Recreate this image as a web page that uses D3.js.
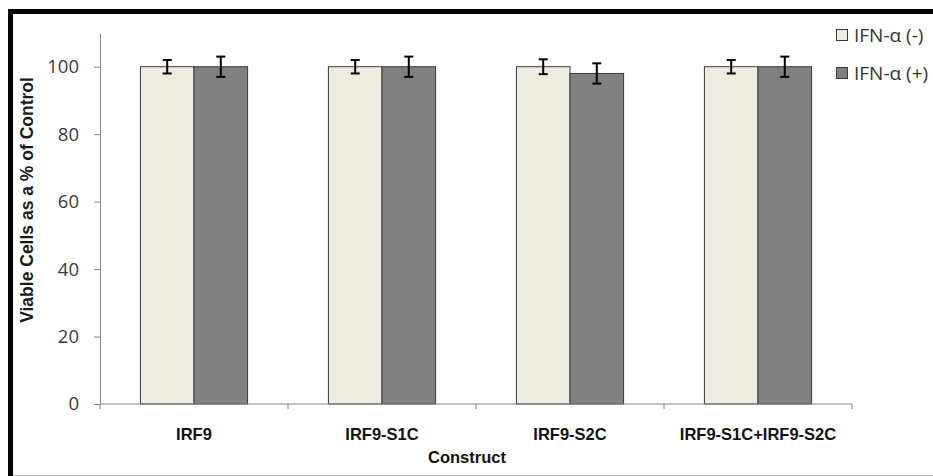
<!DOCTYPE html>
<html>
<head>
<meta charset="utf-8">
<script src="https://cdn.jsdelivr.net/npm/d3@7"></script>
<style>
  body { margin: 0; background: #fff; }
  svg { display: block; }
</style>
</head>
<body>
<div id="chart"></div>
<script>
const categories = ['IRF9', 'IRF9-S1C', 'IRF9-S2C', 'IRF9-S1C+IRF9-S2C'];
const seriesNames = ['IFN-\u03b1 (-)', 'IFN-\u03b1 (+)'];
const valuesMinus = [100, 100, 100, 100];
const valuesPlus = [100, 100, 98, 100];
const errMinus = [2, 2, 2.2, 2];
const errPlus = [3, 3, 3, 3];
const yTicks = [0, 20, 40, 60, 80, 100];

const colors = ['#eeece1', '#808080'];
const W = 933, H = 476;

const svg = d3.select('#chart')
  .append('svg')
  .attr('width', W)
  .attr('height', H);

// frame: thick black top/left, thin grey bottom
svg.append('rect')
  .attr('x', 8).attr('y', 9)
  .attr('width', W).attr('height', 5)
  .attr('fill', '#000');
svg.append('rect')
  .attr('x', 8).attr('y', 9)
  .attr('width', 5).attr('height', 467)
  .attr('fill', '#000');
svg.append('line')
  .attr('x1', 13).attr('x2', W)
  .attr('y1', 475.5).attr('y2', 475.5)
  .attr('stroke', '#b8b8b8');

const y = d3.scaleLinear().domain([0, 110]).range([404, 33]);
const x0 = d3.scaleBand()
  .domain(categories)
  .range([100, 852])
  .paddingInner(0.43)
  .paddingOuter(0.215);
const x1 = d3.scaleBand()
  .domain([0, 1])
  .range([0, x0.bandwidth()]);

const rows = categories.map((c, i) => ({
  cat: c,
  bars: [
    { s: 0, v: valuesMinus[i], e: errMinus[i] },
    { s: 1, v: valuesPlus[i], e: errPlus[i] }
  ]
}));

// y axis
const yAxis = svg.append('g')
  .attr('transform', 'translate(100,0)')
  .call(d3.axisLeft(y).tickValues(yTicks).tickSize(6).tickPadding(15).tickSizeOuter(0));
yAxis.select('.domain').attr('stroke', '#868686');
yAxis.selectAll('.tick line').attr('stroke', '#868686');
yAxis.selectAll('.tick text')
  .attr('font-family', "'Open Sans', sans-serif")
  .attr('font-size', 18.5)
  .attr('fill', '#3a3a3a');

// bars
const groups = svg.selectAll('.grp')
  .data(rows)
  .enter().append('g')
    .attr('class', 'grp')
    .attr('transform', d => `translate(${x0(d.cat)},0)`);

groups.selectAll('rect')
  .data(d => d.bars)
  .enter().append('rect')
    .attr('x', d => x1(d.s))
    .attr('y', d => y(d.v))
    .attr('width', x1.bandwidth())
    .attr('height', d => y(0) - y(d.v))
    .attr('fill', d => colors[d.s])
    .attr('stroke', '#3a3a3a')
    .attr('stroke-width', 1);

// error bars
const cap = 4.5;
const err = groups.selectAll('.err')
  .data(d => d.bars)
  .enter().append('g')
    .attr('class', 'err')
    .attr('stroke', '#000')
    .attr('stroke-width', 2);
err.append('line')
  .attr('x1', d => x1(d.s) + x1.bandwidth() / 2)
  .attr('x2', d => x1(d.s) + x1.bandwidth() / 2)
  .attr('y1', d => y(d.v + d.e))
  .attr('y2', d => y(d.v - d.e));
err.append('line')
  .attr('x1', d => x1(d.s) + x1.bandwidth() / 2 - cap)
  .attr('x2', d => x1(d.s) + x1.bandwidth() / 2 + cap)
  .attr('y1', d => y(d.v + d.e))
  .attr('y2', d => y(d.v + d.e));
err.append('line')
  .attr('x1', d => x1(d.s) + x1.bandwidth() / 2 - cap)
  .attr('x2', d => x1(d.s) + x1.bandwidth() / 2 + cap)
  .attr('y1', d => y(d.v - d.e))
  .attr('y2', d => y(d.v - d.e));

// x axis line with category boundary ticks
svg.append('line')
  .attr('x1', 100).attr('x2', 852)
  .attr('y1', y(0)).attr('y2', y(0))
  .attr('stroke', '#868686');
const bounds = categories.map(c => x0(c) + x0.bandwidth() / 2 - x0.step() / 2)
  .concat([x0(categories[categories.length - 1]) + x0.bandwidth() / 2 + x0.step() / 2]);
svg.selectAll('.xtick')
  .data(bounds)
  .enter().append('line')
    .attr('class', 'xtick')
    .attr('x1', d => d).attr('x2', d => d)
    .attr('y1', y(0)).attr('y2', y(0) + 5)
    .attr('stroke', '#868686');

const boldFont = 'Arial, "Liberation Sans", sans-serif';

svg.selectAll('.xlab')
  .data(categories)
  .enter().append('text')
    .attr('class', 'xlab')
    .attr('x', d => x0(d) + x0.bandwidth() / 2)
    .attr('y', 440)
    .attr('text-anchor', 'middle')
    .attr('font-family', boldFont)
    .attr('font-weight', 'bold')
    .attr('font-size', 16.5)
    .attr('fill', '#111')
    .text(d => d);

svg.append('text')
  .attr('x', 467)
  .attr('y', 463)
  .attr('text-anchor', 'middle')
  .attr('font-family', boldFont)
  .attr('font-weight', 'bold')
  .attr('font-size', 16.5)
  .attr('fill', '#111')
  .text('Construct');

svg.append('text')
  .attr('transform', 'translate(33,200) rotate(-90)')
  .attr('text-anchor', 'middle')
  .attr('font-family', boldFont)
  .attr('font-weight', 'bold')
  .attr('font-size', 17.5)
  .attr('fill', '#1a1a1a')
  .text('Viable Cells as a % of Control');

// legend
const legend = svg.selectAll('.leg')
  .data(seriesNames)
  .enter().append('g')
    .attr('class', 'leg')
    .attr('transform', (d, i) => `translate(836,${35 + i * 38})`);
legend.append('rect')
  .attr('x', 0.5).attr('y', -5.5)
  .attr('width', 11).attr('height', 11)
  .attr('fill', (d, i) => colors[i])
  .attr('stroke', '#3a3a3a');
legend.append('text')
  .attr('x', 18)
  .attr('y', 6.5)
  .attr('font-family', "'Open Sans', sans-serif")
  .attr('font-size', 19)
  .attr('fill', '#333')
  .text(d => d);
</script>
</body>
</html>
